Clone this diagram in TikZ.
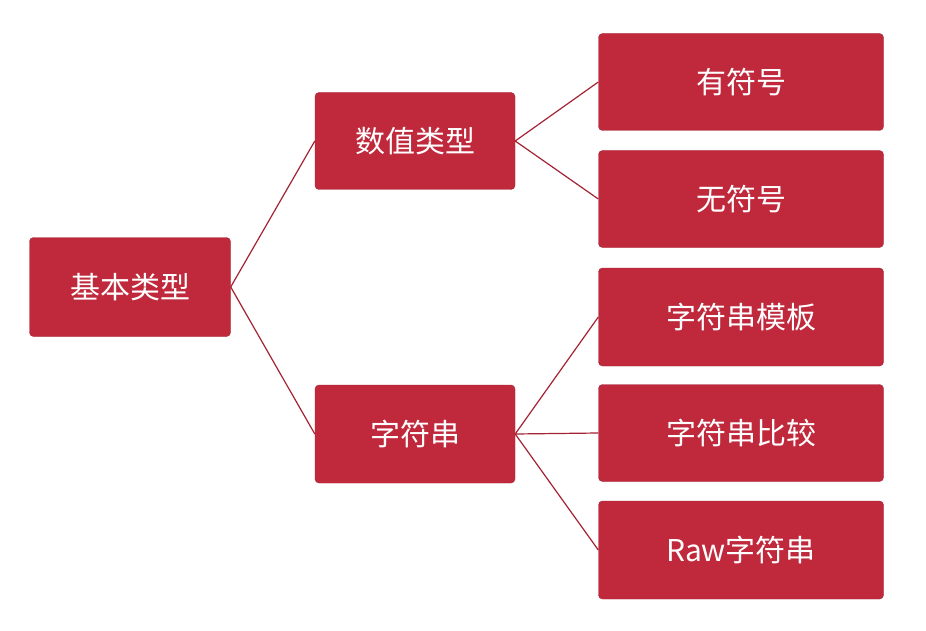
\documentclass[tikz,border=0pt]{standalone}
\usepackage{fontspec}
\setmainfont{Noto Sans CJK SC}
\definecolor{boxred}{HTML}{C0283C}
\begin{document}
\begin{tikzpicture}[x=1pt,y=-1pt,
  bx/.style={fill=boxred,draw=boxred!85!black,rounded corners=4pt,text=white,font=\fontsize{30}{34}\selectfont,inner sep=0pt},
  ln/.style={draw=boxred!85!black,line width=1.2pt}]
\useasboundingbox (0,0) rectangle (926,631);
\node[bx,minimum width=201pt,minimum height=99pt] (r) at (130,287) {基本类型};
\node[bx,minimum width=200pt,minimum height=97pt] (a) at (415,141) {数值类型};
\node[bx,minimum width=200pt,minimum height=98pt] (b) at (415,434) {字符串};
\node[bx,minimum width=285pt,minimum height=97pt] (a1) at (741,82) {有符号};
\node[bx,minimum width=285pt,minimum height=97pt] (a2) at (741,199) {无符号};
\node[bx,minimum width=285pt,minimum height=98pt] (b1) at (741,317) {字符串模板};
\node[bx,minimum width=285pt,minimum height=97pt] (b2) at (741,433) {字符串比较};
\node[bx,minimum width=285pt,minimum height=98pt] (b3) at (741,550) {Raw字符串};
\draw[ln] (r.east) -- (a.west);
\draw[ln] (r.east) -- (b.west);
\draw[ln] (a.east) -- (a1.west);
\draw[ln] (a.east) -- (a2.west);
\draw[ln] (b.east) -- (b1.west);
\draw[ln] (b.east) -- (b2.west);
\draw[ln] (b.east) -- (b3.west);
\end{tikzpicture}
\end{document}
